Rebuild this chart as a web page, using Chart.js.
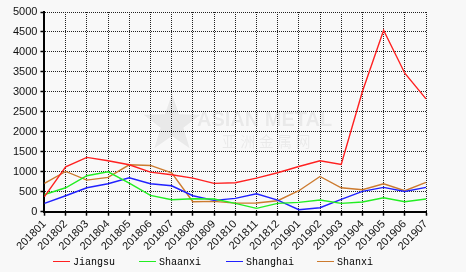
<!DOCTYPE html>
<html>
<head>
<meta charset="utf-8">
<script src="https://cdn.jsdelivr.net/npm/chart.js@4"></script>
<style>
  html, body { margin: 0; padding: 0; background: #f8f8f8; }
  canvas { display: block; }
</style>
</head>
<body>
<canvas id="chart" width="466" height="272"></canvas>
<script>
// chart data
const months = ['201801', '201802', '201803', '201804', '201805', '201806', '201807', '201808', '201809', '201810',
    '201811', '201812', '201901', '201902', '201903', '201904', '201905', '201906', '201907'];
const jiangsu = [380, 1125, 1360, 1275, 1175, 990, 925, 840, 710, 725, 842, 975, 1133, 1275, 1183, 3008, 4542, 3467, 2825];
const shaanxi = [430, 600, 900, 1000, 717, 408, 300, 325, 317, 210, 83, 208, 233, 292, 208, 242, 350, 250, 317];
const shanghai = [208, 400, 600, 700, 850, 700, 650, 400, 283, 333, 450, 292, 50, 100, 308, 508, 608, 508, 608];
const shanxi = [710, 1008, 792, 858, 1175, 1158, 975, 250, 258, 215, 217, 275, 525, 883, 600, 550, 700, 525, 733];
const yTicks = [0, 500, 1000, 1500, 2000, 2500, 3000, 3500, 4000, 4500, 5000];

const makeLine = (label, data, color) => ({
    label: label,
    data: data,
    borderColor: color,
    backgroundColor: color,
    borderWidth: 1.4,
    pointRadius: 0,
    tension: 0,
    fill: false
});

// faint watermark behind the lines
const watermark = {
    id: 'watermark',
    beforeDatasetsDraw(chart) {
        const ctx = chart.ctx;
        ctx.save();
        ctx.fillStyle = 'rgba(0,0,0,0.06)';
        // star
        const cx = 172, cy = 124, R = 30, r = 12;
        ctx.beginPath();
        for (let i = 0; i < 10; i++) {
            const a = -Math.PI / 2 + i * Math.PI / 5;
            const rr = i % 2 === 0 ? R : r;
            ctx.lineTo(cx + rr * Math.cos(a), cy + rr * Math.sin(a));
        }
        ctx.closePath();
        ctx.fill();
        ctx.font = 'bold 20px "Liberation Sans", Arial, sans-serif';
        ctx.textBaseline = 'middle';
        ctx.fillText('ASIAN METAL', 197, 120);
        ctx.font = '15px "Noto Sans CJK SC", sans-serif';
        ctx.fillText('亚 洲 金 属 网', 222, 141);
        ctx.restore();
    }
};

// legend at the bottom: short line + monospaced name
const bottomLegend = {
    id: 'bottomLegend',
    afterDraw(chart) {
        const ctx = chart.ctx;
        const starts = [53, 139, 226, 317];
        ctx.save();
        ctx.font = '10px "Liberation Mono", "DejaVu Sans Mono", monospace';
        ctx.textBaseline = 'middle';
        chart.data.datasets.forEach((ds, i) => {
            const x = starts[i], y = 261;
            ctx.strokeStyle = ds.borderColor;
            ctx.lineWidth = 1;
            ctx.beginPath();
            ctx.moveTo(x, y + 0.5);
            ctx.lineTo(x + 17, y + 0.5);
            ctx.stroke();
            ctx.fillStyle = '#000';
            ctx.fillText(ds.label, x + 20, y + 1);
        });
        ctx.restore();
    }
};

const tickFont = { family: '"Liberation Sans", Arial, sans-serif', size: 11 };

const ctx = document.getElementById('chart').getContext('2d');
// eslint-disable-next-line no-undef
new Chart(ctx, {
    type: 'line',
    data: {
        labels: months,
        datasets: [
            makeLine('Jiangsu', jiangsu, '#ff2020'),
            makeLine('Shaanxi', shaanxi, '#22ee22'),
            makeLine('Shanghai', shanghai, '#2020ff'),
            makeLine('Shanxi', shanxi, '#cc7a2e')
        ]
    },
    options: {
        responsive: false,
        animation: false,
        devicePixelRatio: 1,
        layout: { padding: { left: 10, right: 40, top: 12, bottom: 17 } },
        plugins: {
            legend: { display: false },
            tooltip: { enabled: false }
        },
        scales: {
            x: {
                offset: false,
                grid: { color: '#222', lineWidth: 1, tickLength: 4, tickColor: '#000', tickWidth: 1.5 },
                border: { color: '#000', width: 2, dash: [1, 1] },
                ticks: { color: '#111', font: tickFont, minRotation: 45, maxRotation: 45, autoSkip: false, padding: 2 }
            },
            y: {
                min: yTicks[0],
                max: yTicks[yTicks.length - 1],
                afterBuildTicks: (axis) => { axis.ticks = yTicks.map(v => ({ value: v })); },
                grid: { color: '#222', lineWidth: 1, tickLength: 4, tickColor: '#000', tickWidth: 1.5 },
                border: { color: '#000', width: 2, dash: [1, 1] },
                ticks: { color: '#111', font: tickFont, padding: 3, callback: (v) => String(v) }
            }
        }
    },
    plugins: [watermark, bottomLegend]
});
</script>
</body>
</html>
